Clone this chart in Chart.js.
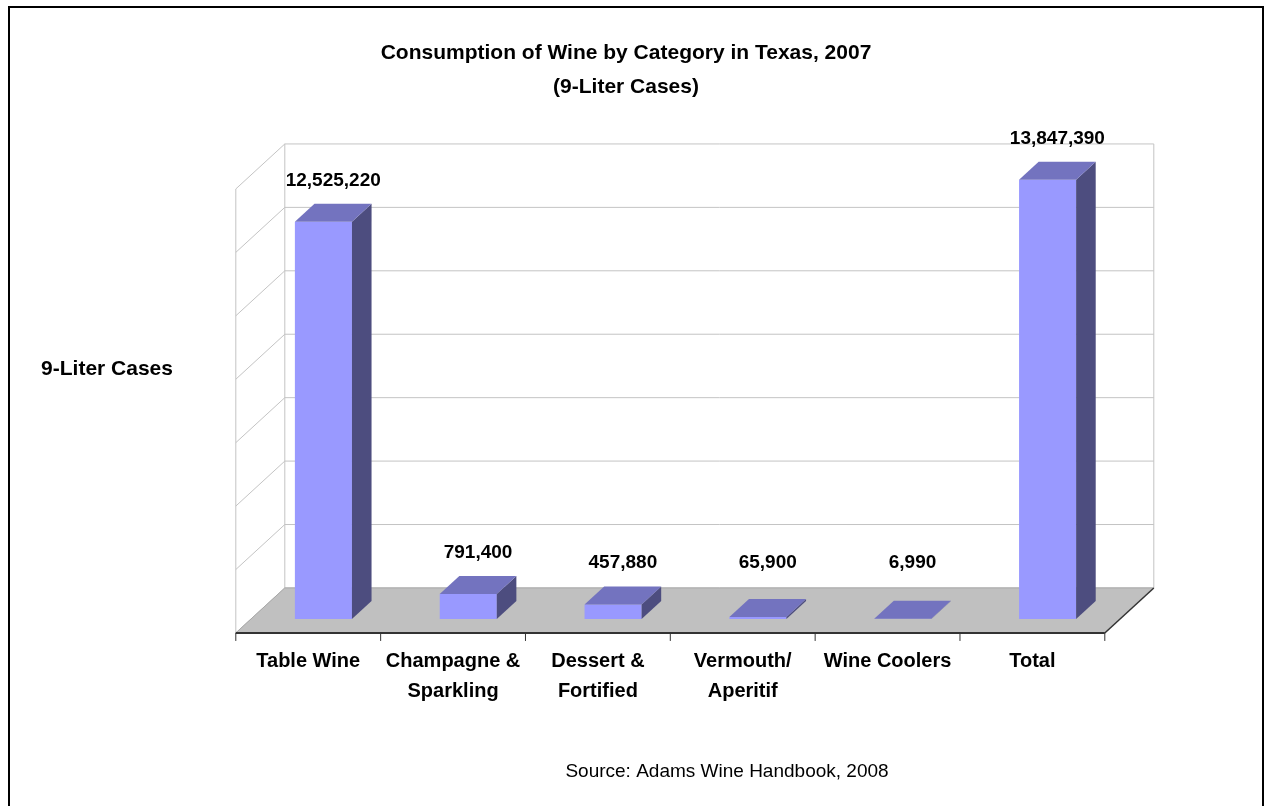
<!DOCTYPE html>
<html>
<head>
<meta charset="utf-8">
<title>Consumption of Wine by Category in Texas, 2007</title>
<script src="https://cdn.jsdelivr.net/npm/chart.js@4.4.1/dist/chart.umd.min.js"></script>
<style>
  html, body { margin: 0; padding: 0; background: #fff; overflow: hidden; }
  canvas { display: block; }
</style>
</head>
<body>
<canvas id="wineChart" width="1267" height="806"></canvas>
<script>
// data
const categories = [
  ["Table Wine"],
  ["Champagne &", "Sparkling"],
  ["Dessert &", "Fortified"],
  ["Vermouth/", "Aperitif"],
  ["Wine Coolers"],
  ["Total"]
];
const cases = [12525220, 791400, 457880, 65900, 6990, 13847390];
const yMax = 14000000;
const yStep = 2000000;

// look
const FONT = '"Liberation Sans", Arial, sans-serif';
const FRONT = "#9999FF";
const TOP = "#7373BF";
const SIDE = "#4D4D7F";
const GRID = "#C4C4C4";
const FLOOR = "#C0C0C0";
const EDGE = "#333333";

// 3d box: full floor depth in px, and where the bars sit inside it (0 = front, 1 = back)
const DEPTH_X = 49;
const DEPTH_Y = 45;
const BAR_FRONT = 0.31;
const BAR_BACK = 0.71;

// move a point from the bars' front plane to depth t
function at(px, py, t) {
  return [px + (t - BAR_FRONT) * DEPTH_X, py - (t - BAR_FRONT) * DEPTH_Y];
}

function line(ctx, p1, p2) {
  ctx.beginPath();
  ctx.moveTo(p1[0], p1[1]);
  ctx.lineTo(p2[0], p2[1]);
  ctx.stroke();
}

function poly(ctx, pts) {
  ctx.beginPath();
  ctx.moveTo(pts[0][0], pts[0][1]);
  for (let i = 1; i < pts.length; i++) ctx.lineTo(pts[i][0], pts[i][1]);
  ctx.closePath();
}

const box3d = {
  id: "box3d",
  beforeDatasetsDraw(chart) {
    const { ctx, chartArea: a, scales } = chart;
    const x = scales.x, y = scales.y;
    const base = y.getPixelForValue(0);
    const top = y.getPixelForValue(yMax);

    ctx.save();
    ctx.fillStyle = "#fff";
    ctx.fillRect(0, 0, chart.width, chart.height);

    // outer frame
    ctx.strokeStyle = "#000";
    ctx.lineWidth = 2;
    ctx.strokeRect(9, 7, 1254, 900);

    // walls and gridlines
    ctx.strokeStyle = GRID;
    ctx.lineWidth = 1;
    let values = (y.ticks || []).map(t => t.value);
    if (!values.length) for (let v = 0; v <= yMax; v += yStep) values.push(v);
    values.forEach(v => {
      const py = y.getPixelForValue(v);
      line(ctx, at(a.left, py, 0), at(a.left, py, 1));
      line(ctx, at(a.left, py, 1), at(a.right, py, 1));
    });
    line(ctx, at(a.left, top, 0), at(a.left, base, 0));
    line(ctx, at(a.left, top, 1), at(a.left, base, 1));
    line(ctx, at(a.right, top, 1), at(a.right, base, 1));

    // floor
    ctx.fillStyle = FLOOR;
    poly(ctx, [at(a.left, base, 0), at(a.right, base, 0), at(a.right, base, 1), at(a.left, base, 1)]);
    ctx.fill();
    ctx.strokeStyle = "#A8A8A8";
    line(ctx, at(a.left, base, 1), at(a.right, base, 1));
    line(ctx, at(a.left, base, 0), at(a.left, base, 1));

    ctx.strokeStyle = EDGE;
    ctx.lineWidth = 2;
    line(ctx, at(a.left, base, 0), at(a.right, base, 0));
    ctx.lineWidth = 1.5;
    line(ctx, at(a.right, base, 0), at(a.right, base, 1));

    // category ticks and labels along the front edge
    const n = categories.length;
    const step = (a.right - a.left) / n;
    ctx.lineWidth = 1;
    for (let i = 0; i <= n; i++) {
      const p = at(a.left + i * step, base, 0);
      line(ctx, [p[0], p[1]], [p[0], p[1] + 8]);
    }
    ctx.fillStyle = "#000";
    ctx.font = "bold 20px " + FONT;
    ctx.textAlign = "center";
    ctx.textBaseline = "middle";
    categories.forEach((lines, i) => {
      const p = at(x.getPixelForValue(i), base, 0);
      lines.forEach((s, k) => ctx.fillText(s, p[0], p[1] + 29 + k * 30));
    });

    // titles
    ctx.font = "bold 21px " + FONT;
    ctx.fillText("Consumption of Wine by Category in Texas, 2007", 626, 53);
    ctx.fillText("(9-Liter Cases)", 626, 87);
    ctx.font = "bold 21px " + FONT;
    ctx.fillText("9-Liter Cases", 107, 369);
    ctx.font = "19px " + FONT;
    ctx.fillText("Source: Adams Wine Handbook, 2008", 727, 772);
    ctx.restore();
  },
  afterDatasetsDraw(chart) {
    const { ctx, scales } = chart;
    const y = scales.y;
    const base = y.getPixelForValue(0);
    const dx = (BAR_BACK - BAR_FRONT) * DEPTH_X;
    const dy = (BAR_BACK - BAR_FRONT) * DEPTH_Y;
    const meta = chart.getDatasetMeta(0);

    ctx.save();
    meta.data.forEach((bar, i) => {
      const l = bar.x - bar.width / 2;
      const r = bar.x + bar.width / 2;
      const t = bar.y;
      // side face
      ctx.fillStyle = SIDE;
      poly(ctx, [[r, t], [r + dx, t - dy], [r + dx, base - dy], [r, base]]);
      ctx.fill();
      // top face
      ctx.fillStyle = TOP;
      poly(ctx, [[l, t], [r, t], [r + dx, t - dy], [l + dx, t - dy]]);
      ctx.fill();

      // value label above the bar
      ctx.fillStyle = "#000";
      ctx.font = "bold 19px " + FONT;
      ctx.textAlign = "center";
      ctx.textBaseline = "middle";
      const ly = Math.min(t, base - 15) - 41;
      ctx.fillText(cases[i].toLocaleString("en-US"), bar.x + dx / 2, ly);
    });
    ctx.restore();
  }
};

new Chart(document.getElementById("wineChart"), {
  type: "bar",
  data: {
    labels: categories,
    datasets: [{
      data: cases,
      backgroundColor: FRONT,
      borderWidth: 0,
      barPercentage: 0.394,
      categoryPercentage: 1
    }]
  },
  options: {
    responsive: false,
    animation: false,
    events: [],
    layout: { padding: { left: 251, right: 147, top: 175, bottom: 187 } },
    scales: {
      x: { display: false },
      y: { display: false, min: 0, max: yMax, ticks: { stepSize: yStep } }
    },
    plugins: {
      legend: { display: false },
      tooltip: { enabled: false }
    }
  },
  plugins: [box3d]
});
</script>
</body>
</html>
